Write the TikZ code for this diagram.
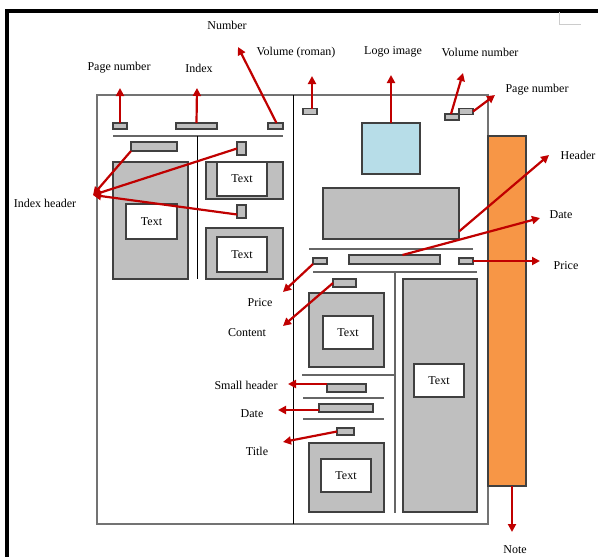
\documentclass[tikz,border=0pt]{standalone}
\usepackage{fontspec}
\setmainfont{Liberation Serif}
\usepackage{tikz}
\usetikzlibrary{arrows.meta}
\definecolor{gry}{HTML}{BFBFBF}
\definecolor{lblue}{HTML}{B7DDE8}
\definecolor{orng}{HTML}{F79646}
\definecolor{arrred}{HTML}{C00000}

\begin{document}
\begin{tikzpicture}[x=1pt,y=-1pt,blk/.style n args={3}{draw=black!75,fill=#1,minimum width=#2pt,minimum height=#3pt,inner sep=0pt,outer sep=0pt,rectangle,line width=1.1pt,font=\fontsize{12}{14}\selectfont},lbl/.style={font=\fontsize{12}{14}\selectfont,inner sep=0pt},arr/.style={draw=arrred,line width=2.2pt,-{Triangle[length=8pt,width=8pt]}},rule/.style={draw=black!60,line width=1.6pt}]
\useasboundingbox (0,0) rectangle (598,557);
\draw[line width=3.5pt] (7,557) -- (7,11) -- (598,11);
\draw[black!20,line width=1pt] (559,12) -- (559,24) -- (581,24);
\draw[black!55,line width=1.4pt] (97,95) rectangle (488,524);
\draw[line width=0.9pt] (293,95) -- (293,524);
\foreach \xa/\xb/\y in %
{113/283/136,309/473/249,313/477/272,302/395/375,303/384/398,303/384/419} {
   \draw[rule] (\xa,\y) -- (\xb,\y);
}
\draw[line width=0.9pt] (197,136) -- (197,279);
\draw[rule] (395,272) -- (395,513);
\node[blk={gry}{14}{6}] (pgL) at (120,126) {};
\node[blk={gry}{41}{6}] (idx) at (196.5,126) {};
\node[blk={gry}{15}{6}] (num) at (275.5,126) {};
\node[blk={gry}{46}{9}] (ihdr) at (154,146.5) {};
\node[blk={gry}{75}{117}] (boxL) at (150.5,220.5) {};
\node[blk={white}{51}{35}] at (151.5,221.5) {Text};
\node[blk={gry}{9}{13}] (ihdrA) at (241.5,148.5) {};
\node[blk={gry}{77}{37}] (boxA) at (244.5,180.5) {};
\node[blk={white}{50}{34}] at (242,179) {Text};
\node[blk={gry}{9}{13}] (ihdrB) at (241.5,211.5) {};
\node[blk={gry}{77}{51}] (boxB) at (244.5,253.5) {};
\node[blk={white}{50}{35}] at (242,254.5) {Text};
\node[blk={gry}{14}{6}] (volR) at (310,111.5) {};
\node[blk={lblue}{58}{51}] (logo) at (391,148.5) {};
\node[blk={gry}{14}{6}] (volN) at (452,117) {};
\node[blk={gry}{14}{6}] (pgR) at (466,111.5) {};
\node[blk={gry}{136}{51}] (hdr) at (391,213.5) {};
\node[blk={gry}{14}{6}] (prL) at (320,261) {};
\node[blk={gry}{91}{9}] (dateW) at (394.5,259.5) {};
\node[blk={gry}{14}{6}] (prR) at (466,261) {};
\node[blk={gry}{23}{8}] (cont) at (344.5,283) {};
\node[blk={gry}{75}{74}] (boxC) at (346.5,330) {};
\node[blk={white}{50}{33}] at (348,332.5) {Text};
\node[blk={gry}{39}{8}] (shdr) at (346.5,388) {};
\node[blk={gry}{54}{8}] (dateS) at (346,408) {};
\node[blk={gry}{17}{7}] (ttl) at (345.5,431.5) {};
\node[blk={gry}{75}{69}] (boxT) at (346.5,477.5) {};
\node[blk={white}{50}{33}] at (346,475.5) {Text};
\node[blk={gry}{74}{233}] (boxR) at (440,395.5) {};
\node[blk={white}{50}{33}] at (439,380.5) {Text};
\node[blk={orng}{38}{350}] (note) at (507,311) {};
\foreach \n/\x/\y/\t in %
{lpgL/119/68/Page number,lidx/199/68/Index,lnum/227/25/Number,lvolR/296/53/Volume (roman),%
llogo/393/52/Logo image,lvolN/480/52/Volume number,lpgR/537/90/Page number,lhdr/578/155/Header,%
ldateW/561/215/Date,lprR/566/266/Price,lprL/260/303/Price,lcont/247/333/Content,%
lshdr/246/385/Small header,ldateS/252/414/Date,lttl/257/451/Title,lihdr/45/203/Index header,lnote/515/550/Note} {
   \node[lbl] (\n) at (\x,\y) {\t};
}
\foreach \n/\x/\y in %
{tpgL/120/88,tidx/197/88,tnum/238/47,tvolR/312/76,tlogo/391/75,tvolN/463/73,tpgR/495/95,%
thdr/549/155,tdateW/540/218,tprR/540/261,tprL/283/292,tcont/283/326,tshdr/288/384,%
tdateS/278/410,tttl/283/442,tihdr/93/195,tnote/512/532} {
   \coordinate (\n) at (\x,\y);
}
\draw[arr] (pgL.north) -- (tpgL);
\draw[arr] (idx.north) -- (tidx);
\draw[arr] ([xshift=1pt]num.north) -- (tnum);
\draw[arr] ([xshift=2pt]volR.north) -- (tvolR);
\draw[arr] (logo.north) -- (tlogo);
\draw[arr] ([xshift=-1pt]volN.north) -- (tvolN);
\draw[arr] (pgR.east) -- (tpgR);
\draw[arr] ([yshift=-18pt]hdr.east) -- (thdr);
\draw[arr] ([xshift=8pt]dateW.north) -- (tdateW);
\draw[arr] (prR.east) -- (tprR);
\draw[arr] (prL.south west) -- (tprL);
\draw[arr] (cont.west) -- (tcont);
\draw[arr] (shdr.north west) -- (tshdr);
\draw[arr] ([yshift=-2pt]dateS.west) -- (tdateS);
\draw[arr] (ttl.west) -- (tttl);
\draw[arr] (ihdr.south west) -- (tihdr);
\draw[arr] (ihdrA.west) -- (tihdr);
\draw[arr] ([yshift=-3pt]ihdrB.west) -- (tihdr);
\draw[arr] ([xshift=5pt]note.south) -- (tnote);
\end{tikzpicture}
\end{document}
